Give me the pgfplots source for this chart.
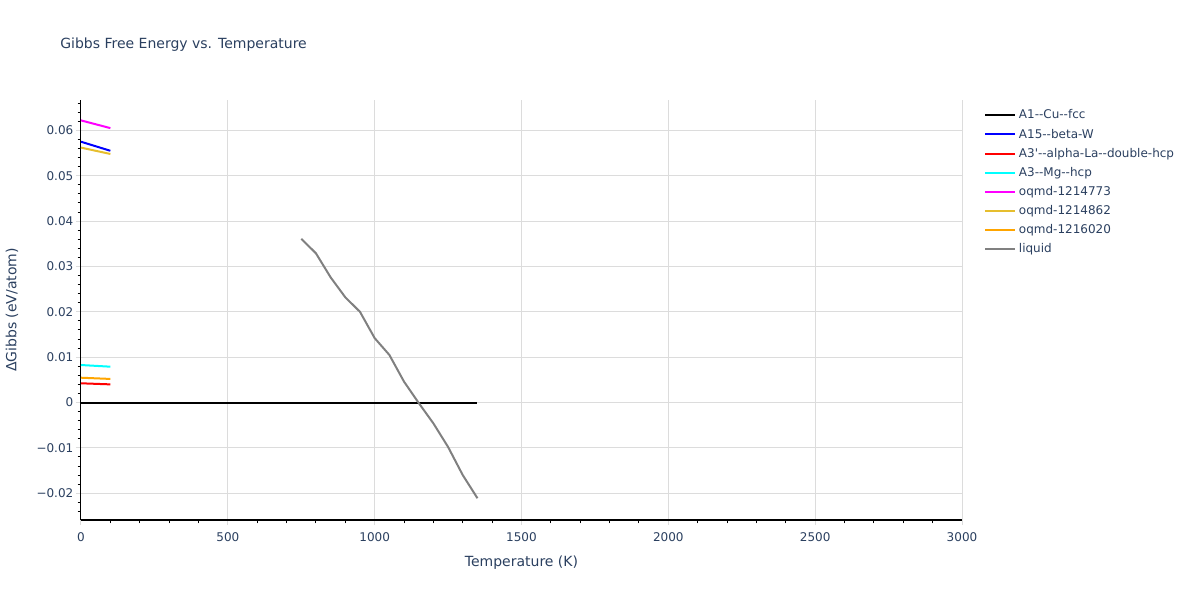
\documentclass[border=0pt]{standalone}
\usepackage{fontspec}
\setmainfont{DejaVu Sans}
\newfontfamily\dv{DejaVu Sans}
\usepackage{pgfplots}
\pgfplotsset{compat=1.18}
\definecolor{txt}{HTML}{2A3F5F}
\definecolor{gridc}{HTML}{DCDCDC}
\definecolor{ygold}{HTML}{E6BE2E}
\definecolor{orng}{HTML}{FFA500}
\definecolor{mag}{HTML}{FF00FF}
\definecolor{cyn}{HTML}{00FFFF}
\definecolor{rd}{HTML}{FF0000}
\definecolor{bl}{HTML}{0000FF}
\definecolor{gry}{HTML}{808080}

\begin{document}
\begin{tikzpicture}
\path[use as bounding box] (0,0) rectangle (900pt,450pt);
\node[anchor=west, inner sep=0pt, text=txt, font=\dv\fontsize{10.5}{13}\selectfont] at (45pt,416.25pt) {Gibbs Free Energy vs. Temperature};
\begin{axis}[
  at={(60.75pt,60pt)}, anchor=south west,
  scale only axis, width=660.75pt, height=315pt,
  xmin=0, xmax=3000, ymin=-0.0259, ymax=0.0667,
  axis lines=left, axis line style={-, black, line width=0.75pt},
  xtick={0,500,1000,1500,2000,2500,3000},
  xticklabels={0,500,1000,1500,2000,2500,3000},
  minor xtick={0,100,...,3000},
  ytick={-0.02,-0.01,0,0.01,0.02,0.03,0.04,0.05,0.06},
  yticklabels={−0.02,−0.01,0,0.01,0.02,0.03,0.04,0.05,0.06},
  minor ytick={-0.024,-0.022,...,0.0665},
  scaled y ticks=false,
  tick align=outside,
  major tick length=3.75pt, minor tick length=2.5pt,
  major tick style={gridc, line width=0.75pt},
  minor tick style={black, line width=0.75pt},
  xmajorgrids, ymajorgrids,
  major grid style={gridc, line width=0.75pt},
  tick label style={text=txt, font=\dv\fontsize{9}{10}\selectfont},
  xticklabel style={yshift=-2.5pt},
  yticklabel style={xshift=1.5pt},
  xlabel={Temperature (K)}, ylabel={ΔGibbs (eV/atom)},
  label style={text=txt, font=\dv\fontsize{10.5}{12}\selectfont},
  xlabel style={at={(axis description cs:0.5,-0.1024)}, anchor=center},
  ylabel style={at={(axis description cs:-0.0783,0.5)}, anchor=center},
  legend style={at={(1.0204,0.99)}, anchor=north west, draw=none, fill=none,
    font=\dv\fontsize{9}{11}\selectfont, text=txt, row sep=2pt},
  legend cell align=left,
  legend image code/.code={\draw[#1] (0pt,0pt) -- (22.5pt,0pt);},
  every axis plot/.append style={line width=1.5pt, no markers},
]
\addplot[black] coordinates {(0,0) (1350,0)};
\addlegendentry{A1--Cu--fcc}
\addplot[bl] coordinates {(0,0.0575) (100,0.0555)};
\addlegendentry{A15--beta-W}
\addplot[rd] coordinates {(0,0.00424) (100,0.0040)};
\addlegendentry{A3'--alpha-La--double-hcp}
\addplot[cyn] coordinates {(0,0.00827) (100,0.0079)};
\addlegendentry{A3--Mg--hcp}
\addplot[mag] coordinates {(0,0.0622) (100,0.0605)};
\addlegendentry{oqmd-1214773}
\addplot[ygold] coordinates {(0,0.0562) (100,0.0548)};
\addlegendentry{oqmd-1214862}
\addplot[orng] coordinates {(0,0.00547) (100,0.0052)};
\addlegendentry{oqmd-1216020}
\addplot[gry] coordinates {
(750,0.0361)
(800,0.0329)
(850,0.0276)
(900,0.0232)
(950,0.0200)
(1000,0.0142)
(1050,0.0105)
(1100,0.0046)
(1150,-0.0001)
(1200,-0.0046)
(1250,-0.0098)
(1300,-0.0160)
(1350,-0.0211)
};
\addlegendentry{liquid}
\end{axis}
\end{tikzpicture}
\end{document}
